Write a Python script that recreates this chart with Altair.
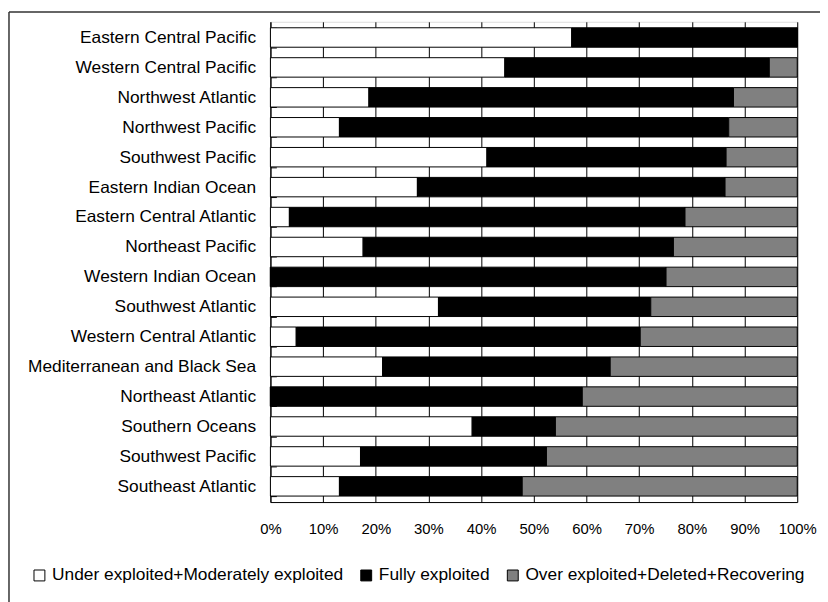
import altair as alt
import pandas as pd

regions = [
    "Eastern Central Pacific", "Western Central Pacific", "Northwest Atlantic",
    "Northwest Pacific", "Southwest Pacific", "Eastern Indian Ocean",
    "Eastern Central Atlantic", "Northeast Pacific", "Western Indian Ocean",
    "Southwest Atlantic", "Western Central Atlantic", "Mediterranean and Black Sea",
    "Northeast Atlantic", "Southern Oceans", "Southwest Pacific", "Southeast Atlantic",
]
under = [57.2, 44.5, 18.7, 13.1, 41.1, 27.9, 3.6, 17.6, 0.0, 31.9, 4.9, 21.3, 0.0, 38.3, 17.1, 13.1]
fully = [42.8, 50.2, 69.2, 73.9, 45.4, 58.4, 75.1, 58.9, 75.1, 40.3, 65.3, 43.2, 59.2, 15.8, 35.3, 34.7]
over = [0.0, 5.3, 12.1, 13.0, 13.5, 13.7, 21.3, 23.5, 24.9, 27.8, 29.8, 35.5, 40.8, 45.9, 47.6, 52.2]
series = ["Under exploited+Moderately exploited", "Fully exploited", "Over exploited+Deleted+Recovering"]
colors = ["#ffffff", "#000000", "#808080"]
x_ticks = [0.0, 0.1, 0.2, 0.3, 0.4, 0.5, 0.6, 0.7, 0.8, 0.9, 1.0]

rows = []
for i, name in enumerate(regions):
    for k, vals in enumerate([under, fully, over]):
        rows.append({"idx": i, "region": name, "series": series[k], "order": k, "value": vals[i]})
df = pd.DataFrame(rows)

label_expr = "[" + ",".join("'" + r + "'" for r in regions) + "][datum.value]"
FONT = "Liberation Sans"

bars = alt.Chart(df).mark_bar(stroke="black", strokeWidth=1).encode(
    y=alt.Y(
        "idx:O", sort="ascending", title=None,
        scale=alt.Scale(paddingInner=0.35, paddingOuter=0.2),
        axis=alt.Axis(
            labelExpr=label_expr, ticks=False, labelPadding=15, labelFontSize=17.5,
            labelColor="#000000", labelFont=FONT, domainColor="#000000", labelLimit=400,
            grid=True, tickBand="extent", gridColor="#000000", gridDash=[6, 2000], gridWidth=1,
        ),
    ),
    x=alt.X(
        "value:Q", stack="normalize", title=None,
        scale=alt.Scale(domain=[0, 1], nice=False),
        axis=alt.Axis(
            format=".0%", values=x_ticks, ticks=False, grid=True, gridColor="#000000",
            gridWidth=1, labelPadding=20, labelFontSize=15, labelColor="#000000",
            labelFont=FONT, domainColor="#000000", labelFlush=False, labelOverlap=False,
        ),
    ),
    color=alt.Color(
        "series:N", scale=alt.Scale(domain=series, range=colors),
        legend=alt.Legend(
            title=None, orient="none", legendX=-242, legendY=550, direction="horizontal",
            symbolType="square", symbolSize=121, symbolStrokeColor="#000000",
            symbolStrokeWidth=1, labelFontSize=17.5, labelFont=FONT, labelColor="#000000",
            labelLimit=600, columnPadding=14, labelOffset=4,
        ),
    ),
    order=alt.Order("order:Q"),
)

frame_df = pd.DataFrame({"k": [0]})
top_line = alt.Chart(frame_df).mark_rule(color="#333333", strokeWidth=1.5).encode(
    x=alt.value(-264), x2=alt.value(560), y=alt.value(-10)
)
left_line = alt.Chart(frame_df).mark_rule(color="#333333", strokeWidth=1.5).encode(
    x=alt.value(-264), y=alt.value(-10), y2=alt.value(600)
)

chart = alt.layer(bars, top_line, left_line).properties(
    width=532, height=485,
    padding={"left": 265, "top": 11, "right": 23, "bottom": 98},
    autosize="none",
).configure_view(stroke="#808080", strokeWidth=1).configure(font=FONT)

chart.save("out.html", embed_options={"renderer": "svg", "actions": False})
